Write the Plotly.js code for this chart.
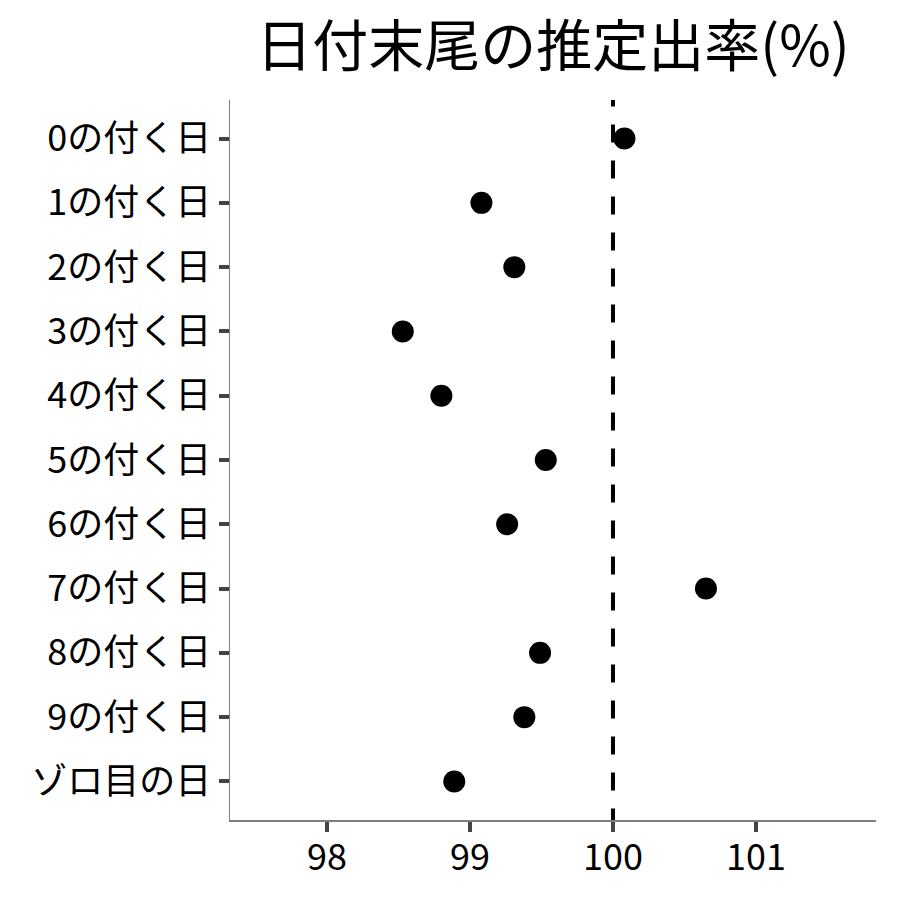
<!DOCTYPE html>
<html>
<head>
<meta charset="utf-8">
<script src="https://cdn.plot.ly/plotly-3.0.1.min.js"></script>
<style>html,body{margin:0;padding:0;background:#fff;}#chart{width:900px;height:900px;}</style>
</head>
<body>
<div id="chart"></div>
<script>
const categories = ["0の付く日","1の付く日","2の付く日","3の付く日","4の付く日","5の付く日","6の付く日","7の付く日","8の付く日","9の付く日","ゾロ目の日"];
const rates = [100.08, 99.08, 99.31, 98.53, 98.80, 99.53, 99.26, 100.65, 99.49, 99.38, 98.89];
const referenceRate = 100;
const xTicks = [98, 99, 100, 101];
const chartTitle = "日付末尾の推定出率(%)";

const FONT = '"Noto Sans CJK JP", "Noto Sans", sans-serif';

// dashed line pattern starting from the top of the plot
const dashParts = ["6.5px", "18px"];
for (let i = 0; i < 24; i++) { dashParts.push("18px", "18px"); }

const trace = {
  type: "scatter",
  mode: "markers",
  x: rates,
  y: categories,
  marker: {color: "#000000", size: 22, line: {width: 0}},
  hoverinfo: "x+y",
  cliponaxis: false
};

const layout = {
  width: 900, height: 900,
  paper_bgcolor: "#ffffff", plot_bgcolor: "#ffffff",
  margin: {l: 230, r: 24, t: 100, b: 80},
  showlegend: false,
  font: {family: FONT, color: "#000000"},
  title: {
    text: chartTitle,
    font: {family: FONT, size: 56, color: "#000000"},
    x: 0.6145, xanchor: "center",
    y: 0.948, yanchor: "middle"
  },
  xaxis: {
    range: [97.322, 101.839],
    tickvals: xTicks,
    ticktext: xTicks.map(String),
    showgrid: false, zeroline: false,
    showline: true, linecolor: "#7f7f7f", linewidth: 1.5,
    ticks: "outside", ticklen: 10, tickwidth: 4, tickcolor: "#444444",
    tickfont: {family: FONT, size: 36, color: "#000000"},
    ticklabelstandoff: -5
  },
  yaxis: {
    type: "category",
    categoryorder: "array",
    categoryarray: categories,
    range: [10.6, -0.6],
    showgrid: false, zeroline: false,
    showline: true, linecolor: "#7f7f7f", linewidth: 1.5,
    ticks: "outside", ticklen: 10, tickwidth: 4, tickcolor: "#444444",
    tickfont: {family: FONT, size: 36, color: "#000000"},
    ticklabelstandoff: 0
  },
  shapes: [{
    type: "line", xref: "x", yref: "paper",
    x0: referenceRate, x1: referenceRate, y0: 1, y1: 0,
    line: {color: "#000000", width: 4, dash: dashParts.join(",")},
    layer: "below"
  }]
};

Plotly.newPlot("chart", [trace], layout, {displayModeBar: false, staticPlot: true});
</script>
</body>
</html>
